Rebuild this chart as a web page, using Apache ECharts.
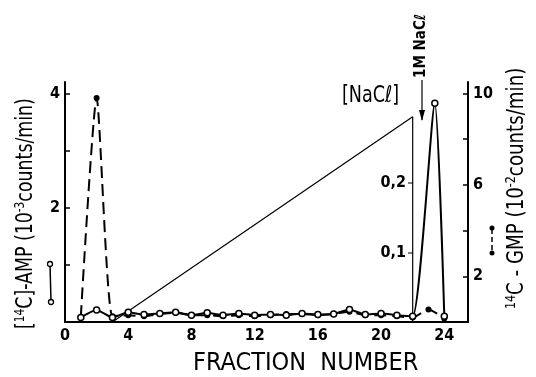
<!DOCTYPE html>
<html>
<head>
<meta charset="utf-8">
<script src="https://cdn.jsdelivr.net/npm/echarts@6/dist/echarts.min.js"></script>
<style>
  html, body { margin: 0; padding: 0; background: #fff; }
  #chart { width: 536px; height: 377px; }
</style>
</head>
<body>
<div id="chart"></div>
<script>
// fraction numbers and counts
const ampFractions = [1, 2, 3, 4, 5, 6, 7, 8, 9, 10, 11, 12, 13, 14, 15, 16, 17, 18, 19, 20, 21, 22, 23.4, 24]
const ampValues = [0.08, 0.21, 0.08, 0.17, 0.13, 0.15, 0.17, 0.12, 0.16, 0.12, 0.15, 0.12, 0.13, 0.12, 0.15, 0.13, 0.14, 0.22, 0.13, 0.15, 0.12, 0.1, 3.83, 0.1]
const gmpFractions = [1, 2, 3, 4, 5, 6, 7, 8, 9, 10, 11, 12, 13, 14, 15, 16, 17, 18, 19, 20, 21, 22, 23, 24]
const gmpValues = [0.22, 9.8, 0.25, 0.3, 0.25, 0.35, 0.4, 0.3, 0.3, 0.25, 0.3, 0.25, 0.3, 0.35, 0.35, 0.3, 0.35, 0.45, 0.3, 0.3, 0.25, 0.2, 0.55, 0.15]
const naclFractions = [3, 22, 22]
const naclValues = [0, 0.295, 0]

const xTicks = [0, 4, 8, 12, 16, 20, 24]
const ampTicks = [1, 2, 3, 4]
const ampLabels = [2, 4]
const gmpTicks = [2, 4, 6, 8, 10]
const gmpLabels = [2, 6, 10]
const naclTicks = [0.1, 0.2]

const FONT = '"DejaVu Sans Condensed", "DejaVu Sans", sans-serif'
const pairs = (xs, ys) => xs.map((x, i) => [x, ys[i]])

const chart = echarts.init(document.getElementById('chart'))
const labelStyle = { color: '#000', fontFamily: FONT, fontSize: 16, fontWeight: 'bold' }
const lineStyle = { color: '#000', width: 2 }
const supStyle = { s: { fontSize: 14, fontFamily: FONT, verticalAlign: 'top', lineHeight: 26 } }

const option = {
  animation: false,
  backgroundColor: '#fff',
  grid: { left: 65, right: 68, top: 82, bottom: 55 },
  xAxis: {
    type: 'value',
    min: 0,
    max: 25.5,
    splitLine: { show: false },
    axisLine: { lineStyle },
    axisTick: { show: false },
    axisLabel: { ...labelStyle, customValues: xTicks, margin: 6 },
  },
  yAxis: [
    {
      type: 'value',
      min: 0,
      max: 4.2,
      position: 'left',
      splitLine: { show: false },
      axisLine: { show: true, lineStyle },
      axisTick: { show: true, inside: true, length: 5, customValues: ampTicks, lineStyle: { width: 1.5 } },
      axisLabel: { ...labelStyle, customValues: ampLabels, margin: 5 },
    },
    {
      type: 'value',
      min: 0,
      max: 10.5,
      position: 'right',
      splitLine: { show: false },
      axisLine: { show: true, lineStyle },
      axisTick: { show: true, inside: true, length: 5, customValues: gmpTicks, lineStyle: { width: 1.5 } },
      axisLabel: { ...labelStyle, customValues: gmpLabels, margin: 5 },
    },
    {
      // NaCl gradient scale sitting on fraction 22
      type: 'value',
      min: 0,
      max: 0.345,
      position: 'right',
      offset: -55,
      splitLine: { show: false },
      axisLine: { show: false },
      axisTick: { show: true, inside: true, length: 5, customValues: naclTicks, lineStyle: { width: 1.5 } },
      axisLabel: {
        ...labelStyle,
        inside: true,
        customValues: naclTicks,
        margin: 7,
        formatter: (v) => v.toFixed(1).replace('.', ','),
      },
    },
  ],
  series: [
    {
      name: 'NaCl',
      type: 'line',
      yAxisIndex: 2,
      data: pairs(naclFractions, naclValues),
      showSymbol: false,
      lineStyle: { color: '#000', width: 1.2 },
      z: 1,
    },
    {
      name: 'GMP',
      type: 'line',
      yAxisIndex: 1,
      data: pairs(gmpFractions, gmpValues),
      smooth: 0.2,
      symbol: 'circle',
      symbolSize: 6,
      itemStyle: { color: '#000' },
      lineStyle: { color: '#000', width: 2, type: [12, 6] },
      z: 2,
    },
    {
      name: 'AMP',
      type: 'line',
      yAxisIndex: 0,
      data: pairs(ampFractions, ampValues),
      smooth: 0.2,
      symbol: 'circle',
      symbolSize: 6,
      itemStyle: { color: '#fff', borderColor: '#000', borderWidth: 1.5 },
      lineStyle: { color: '#000', width: 2 },
      z: 3,
    },
  ],
  graphic: [
    {
      type: 'text',
      left: 193,
      top: 351,
      style: { text: 'FRACTION  NUMBER', fill: '#000', font: '25px ' + FONT },
    },
    {
      type: 'text',
      x: 13,
      y: 329,
      rotation: Math.PI / 2,
      scaleX: 0.84,
      style: {
        text: '[{s|14}C]-AMP (10{s|-3}counts/min)',
        fill: '#000',
        font: '23px ' + FONT,
        rich: supStyle,
      },
    },
    {
      type: 'text',
      x: 504,
      y: 309,
      rotation: Math.PI / 2,
      scaleX: 0.88,
      style: {
        text: '{s|14}C - GMP (10{s|-2}counts/min)',
        fill: '#000',
        font: '23px ' + FONT,
        rich: supStyle,
      },
    },
    {
      type: 'text',
      x: 342,
      y: 85,
      scaleX: 0.85,
      style: { text: '[NaCℓ]', fill: '#000', font: '23px ' + FONT },
    },
    {
      type: 'text',
      x: 414,
      y: 78,
      rotation: Math.PI / 2,
      style: { text: '1M NaCℓ', fill: '#000', font: 'bold 15px ' + FONT },
    },
    // arrow pointing at the 1M NaCl step
    { type: 'line', shape: { x1: 422, y1: 80, x2: 422, y2: 120 }, style: { stroke: '#000', lineWidth: 1.2 } },
    { type: 'polygon', shape: { points: [[419, 110], [425, 110], [422, 121]] }, style: { fill: '#000' } },
    // legend keys beside axis titles
    { type: 'line', shape: { x1: 50, y1: 265, x2: 51, y2: 301 }, style: { stroke: '#000', lineWidth: 1.5 } },
    { type: 'circle', shape: { cx: 50, cy: 264, r: 2.5 }, style: { fill: '#fff', stroke: '#000', lineWidth: 1.3 } },
    { type: 'circle', shape: { cx: 51, cy: 302, r: 2.5 }, style: { fill: '#fff', stroke: '#000', lineWidth: 1.3 } },
    { type: 'line', shape: { x1: 492, y1: 229, x2: 492, y2: 253 }, style: { stroke: '#000', lineWidth: 1.5, lineDash: [5, 3] } },
    { type: 'circle', shape: { cx: 492, cy: 228, r: 2.5 }, style: { fill: '#000' } },
    { type: 'circle', shape: { cx: 492, cy: 253, r: 2.5 }, style: { fill: '#000' } },
  ],
}
chart.setOption(option)
</script>
</body>
</html>
